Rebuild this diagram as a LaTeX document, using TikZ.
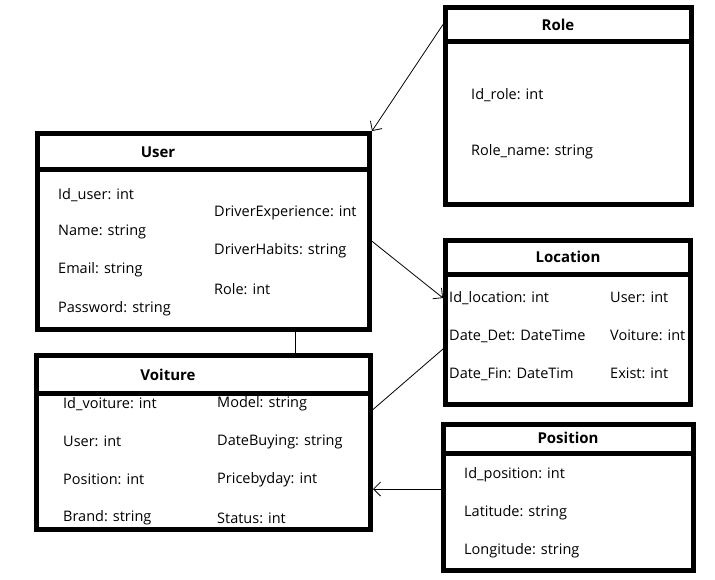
\documentclass[tikz,border=0pt]{standalone}
\usepackage{fontspec}
\setmainfont{Open Sans}
\usetikzlibrary{arrows.meta}

\begin{document}
\begin{tikzpicture}[>={Straight Barb[width=14pt,length=7pt]}, box/.style={draw, line width=5pt, rectangle, inner sep=0pt}, title/.style={font=\bfseries\fontsize{15}{17}\selectfont, inner sep=0pt}, field/.style={anchor=west, font=\fontsize{14.5}{16}\selectfont, inner sep=0pt}, thin line/.style={line width=0.8pt}]
  \useasboundingbox (0pt, 0pt) rectangle (715pt, -579pt);

  % User
  \draw (203.5pt, -151.25pt)node[box, minimum width=332pt, minimum height=35.5pt](uhead){};
  \draw (203.5pt, -249.25pt)node[box, minimum width=332pt, minimum height=160.5pt](ubody){};
  \draw (158pt, -152pt)node[title](utitle){User};
  \draw (58pt, -195pt)node[field](uid){Id\_user: int};
  \draw (58pt, -232pt)node[field](uname){Name: string};
  \draw (58pt, -270pt)node[field](uemail){Email: string};
  \draw (58pt, -309pt)node[field](upass){Password: string};
  \draw (214pt, -213pt)node[field](uexp){DriverExperience: int};
  \draw (214pt, -251pt)node[field](uhab){DriverHabits: string};
  \draw (214pt, -289pt)node[field](urole){Role: int};

  % Voiture
  \draw (203.5pt, -374.25pt)node[box, minimum width=334pt, minimum height=37.5pt](vhead){};
  \draw (203.5pt, -461.25pt)node[box, minimum width=334pt, minimum height=136.5pt](vbody){};
  \draw (168pt, -375pt)node[title](vtitle){Voiture};
  \draw (63pt, -404pt)node[field](vid){Id\_voiture: int};
  \draw (63pt, -441pt)node[field](vuser){User: int};
  \draw (63pt, -479pt)node[field](vpos){Position: int};
  \draw (63pt, -518pt)node[field](vbrand){Brand: string};
  \draw (217pt, -404pt)node[field](vmodel){Model: string};
  \draw (217pt, -442pt)node[field](vdate){DateBuying: string};
  \draw (217pt, -480pt)node[field](vprice){Pricebyday: int};
  \draw (217pt, -518pt)node[field](vstatus){Status: int};

  % Role
  \draw (568.5pt, -24.5pt)node[box, minimum width=246pt, minimum height=34pt](rhead){};
  \draw (568.5pt, -123pt)node[box, minimum width=246pt, minimum height=163pt](rbody){};
  \draw (558pt, -25pt)node[title](rtitle){Role};
  \draw (471pt, -95pt)node[field](rid){Id\_role: int};
  \draw (471pt, -152pt)node[field](rname){Role\_name: string};

  % Location
  \draw (568pt, -257.25pt)node[box, minimum width=245pt, minimum height=33.5pt](lhead){};
  \draw (568pt, -339.25pt)node[box, minimum width=245pt, minimum height=130.5pt](lbody){};
  \draw (568pt, -257pt)node[title](ltitle){Location};
  \draw (449pt, -298pt)node[field](lid){Id\_location: int};
  \draw (449pt, -336pt)node[field](ldeb){Date\_Det: DateTime};
  \draw (449pt, -374pt)node[field](lfin){Date\_Fin: DateTim};
  \draw (610pt, -297pt)node[field](luser){User: int};
  \draw (610pt, -335pt)node[field](lvoit){Voiture: int};
  \draw (610pt, -373pt)node[field](lexist){Exist: int};

  % Position
  \draw (568.5pt, -438.75pt)node[box, minimum width=250pt, minimum height=28.5pt](phead){};
  \draw (568.5pt, -511.75pt)node[box, minimum width=250pt, minimum height=117.5pt](pbody){};
  \draw (568pt, -438pt)node[title](ptitle){Position};
  \draw (464pt, -475pt)node[field](pid){Id\_position: int};
  \draw (464pt, -513pt)node[field](plat){Latitude: string};
  \draw (464pt, -551pt)node[field](plong){Longitude: string};

  \coordinate (ufrom) at ([yshift=8pt]ubody.east);
  \coordinate (vfrom) at ([yshift=-19pt]vbody.north east);
  \coordinate (pfrom) at ([yshift=22.75pt]pbody.west);
  \draw[->, thin line] (rhead.west) -- (uhead.north east);
  \draw[->, thin line] (ufrom) -- (lbody.west |- lid);
  \draw[thin line] (vfrom) -- ([yshift=-13pt]lbody.west |- ldeb);
  \draw[->, thin line] (pfrom) -- (vbody.east |- pfrom);
  \draw[thin line] ([xshift=91.5pt]ubody.south) -- ([xshift=91.5pt]vhead.north);
\end{tikzpicture}
\end{document}
